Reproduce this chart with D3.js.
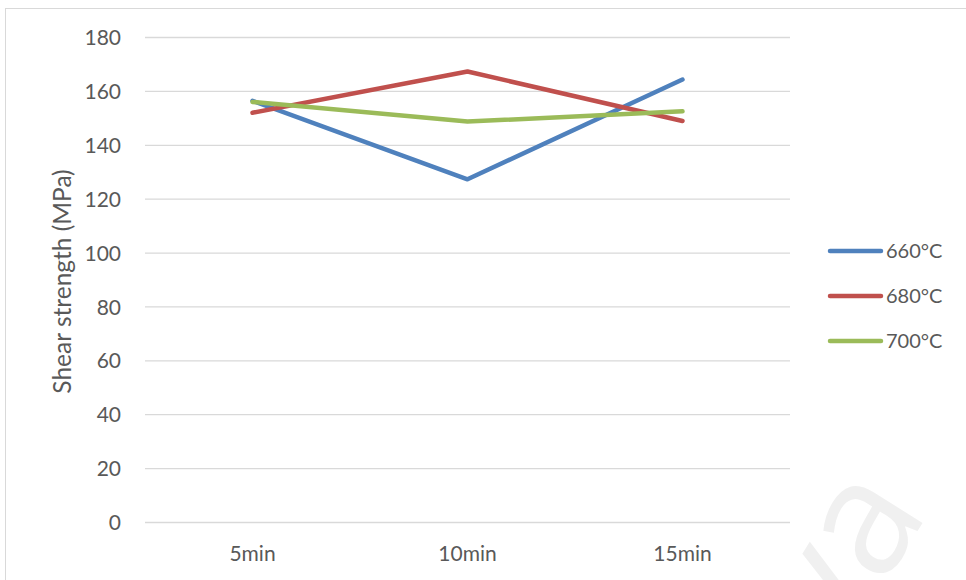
<!DOCTYPE html>
<html>
<head>
<meta charset="utf-8">
<script src="https://cdn.jsdelivr.net/npm/d3@7"></script>
<style>
  html, body { margin: 0; padding: 0; background: #fff; }
  svg { display: block; font-family: Lato, "Open Sans", sans-serif; }
</style>
</head>
<body>
<svg id="chart" width="966" height="580"></svg>
<script>
// Holding time categories
const categories = ["5min", "10min", "15min"];
// Shear strength (MPa) per brazing temperature
const series660 = [156.3, 127.2, 164.2];
const series680 = [151.9, 167.2, 148.8];
const series700 = [155.9, 148.6, 152.4];
const seriesNames = ["660°C", "680°C", "700°C"];
const seriesColors = ["#4f81bd", "#c0504d", "#9bbb59"];
const yTicks = [0, 20, 40, 60, 80, 100, 120, 140, 160, 180];

const svg = d3.select("#chart");
const W = 966, H = 580;
const textColor = "#595959";

// Chart frame
svg.append("rect")
  .attr("x", 5.5).attr("y", 8.5)
  .attr("width", W + 10).attr("height", H)
  .attr("fill", "#fff").attr("stroke", "#d9d9d9").attr("stroke-width", 1);

// Faint watermark
svg.append("text")
  .attr("transform", "translate(840,655) rotate(-58)")
  .attr("font-size", 160)
  .attr("fill", "#f0f0f0")
  .attr("font-family", "Open Sans, sans-serif")
  .text("va");

const plot = { left: 145, right: 790, top: 37, bottom: 522 };

const x = d3.scaleBand().domain(categories).range([plot.left, plot.right]);
const y = d3.scaleLinear().domain([0, 180]).range([plot.bottom, plot.top]);

// Horizontal gridlines + left tick labels
const yAxis = d3.axisLeft(y).tickValues(yTicks).tickSize(-(plot.right - plot.left)).tickPadding(24);
const gy = svg.append("g").attr("transform", `translate(${plot.left},0)`).call(yAxis);
gy.select(".domain").remove();
gy.selectAll(".tick line").attr("stroke", "#d9d9d9").attr("stroke-width", 1.3);
gy.selectAll(".tick text")
  .attr("fill", textColor).attr("font-size", 21)
  .attr("font-family", "Lato, sans-serif").attr("dy", "0.36em");

// Category labels
const xAxis = d3.axisBottom(x).tickSize(0);
const gx = svg.append("g").attr("transform", `translate(0,${plot.bottom})`).call(xAxis);
gx.select(".domain").remove();
gx.selectAll(".tick text")
  .attr("fill", textColor).attr("font-size", 21)
  .attr("font-family", "Lato, sans-serif")
  .attr("y", 39).attr("dy", 0);

// Y-axis title
svg.append("text")
  .attr("transform", `translate(71,${(plot.top + plot.bottom) / 2 + 2}) rotate(-90)`)
  .attr("text-anchor", "middle")
  .attr("fill", textColor)
  .attr("font-size", 24.5)
  .attr("font-family", "Lato, sans-serif")
  .text("Shear strength (MPa)");

const allSeries = [series660, series680, series700];
const line = d3.line()
  .x((d, i) => x(categories[i]) + x.bandwidth() / 2)
  .y(d => y(d));

allSeries.forEach((vals, k) => {
  svg.append("path")
    .datum(vals)
    .attr("d", line)
    .attr("fill", "none")
    .attr("stroke", seriesColors[k])
    .attr("stroke-width", 4.5)
    .attr("stroke-linecap", "round")
    .attr("stroke-linejoin", "round");
});

// Legend
const legend = svg.append("g");
seriesNames.forEach((name, k) => {
  const ly = 251 + k * 45;
  legend.append("line")
    .attr("x1", 830).attr("x2", 881)
    .attr("y1", ly).attr("y2", ly)
    .attr("stroke", seriesColors[k])
    .attr("stroke-width", 4.5)
    .attr("stroke-linecap", "round");
  legend.append("text")
    .attr("x", 886).attr("y", ly)
    .attr("dy", "0.36em")
    .attr("fill", textColor)
    .attr("font-size", 20)
    .attr("font-family", "Lato, sans-serif")
    .text(name);
});
</script>
</body>
</html>
